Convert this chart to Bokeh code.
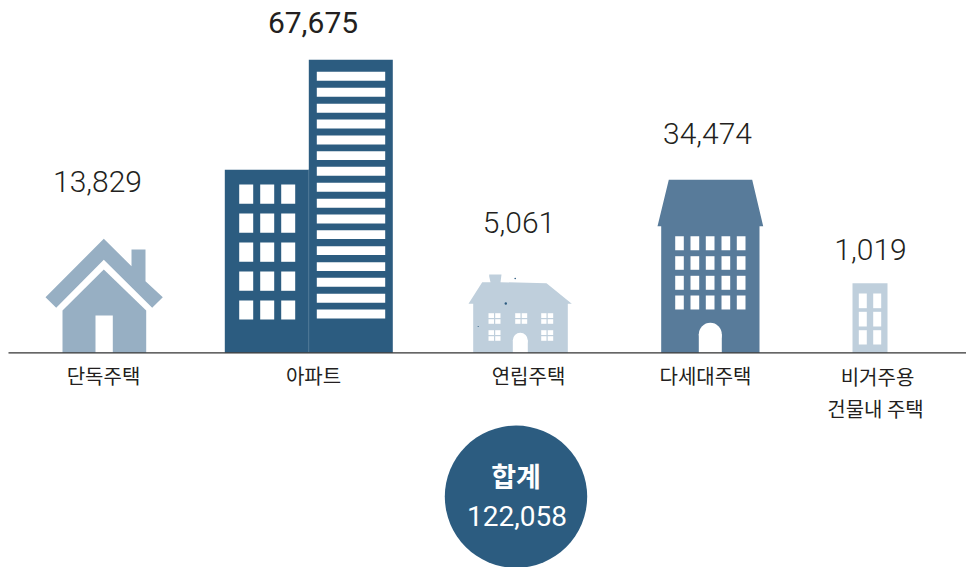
from bokeh.plotting import figure
from bokeh.models import Range1d
from bokeh.core.properties import value
from bokeh.embed import file_html
from bokeh.resources import INLINE

# ---- data ----
categories = ["단독주택", "아파트", "연립주택", "다세대주택", ["비거주용", "건물내 주택"]]
counts = [13829, 67675, 5061, 34474, 1019]
total_label = "합계"
total = 122058

# ---- layout of labels (page pixels) ----
count_x = [97, 312.5, 518.5, 707, 870]
count_y = [180.5, 21.5, 222, 133, 249]
cat_x = [103, 313, 528, 705, [877, 875]]
cat_y = [375, 375, 375, 375, [376, 408]]

NUM_FONT = "Roboto Light, Roboto"
NUM_BOLD = "Roboto"
KR_FONT = "Noto Sans CJK KR"
INK = "#231f20"
DARK = "#2c5c80"
HOUSE = "#97afc3"
PALE = "#bfcfdc"
MID = "#587b9a"
BASE = 352.3

p = figure(width=966, height=567, output_backend="svg", toolbar_location=None,
           x_range=Range1d(0, 966), y_range=Range1d(567, 0),
           min_border=0, outline_line_color=None, background_fill_color="white",
           border_fill_color="white")
p.axis.visible = False
p.grid.visible = False
p.xaxis.visible = False
p.yaxis.visible = False


def rects(xs, ys, color):
    left, right, top, bottom = [], [], [], []
    for y0, y1 in ys:
        for x0, x1 in xs:
            left.append(x0); right.append(x1); top.append(y0); bottom.append(y1)
    p.quad(left=left, right=right, top=top, bottom=bottom, fill_color=color, line_color=None)


# detached house
p.patch([45, 103.3, 131, 131, 145, 145, 162.3, 151.7, 103.3, 55.7],
        [296.7, 238.3, 265.7, 249, 249, 280.7, 296.7, 307.3, 259.3, 307.3],
        fill_color=HOUSE, line_color=None)
p.patch([103.3, 145.7, 145.7, 62, 62], [269, 310, BASE, BASE, 310], fill_color=HOUSE, line_color=None)
rects([(95, 112.3)], [(315, BASE)], "white")

# apartment
rects([(224.3, 308.3)], [(169.3, BASE)], DARK)
rects([(308.3, 392.3)], [(59.3, BASE)], DARK)
p.line([308.3, 308.3], [169.3, BASE], line_color="#4a7596", line_width=0.8)
rects([(238.7, 252.7), (259.7, 273.7), (280.7, 294.7)],
      [(184, 203.3), (213, 232.3), (242, 261.3), (271, 290.3), (300, 319)], "white")
stripe_tops = [71.3, 87.3, 103.3, 119, 135, 150.7, 166.3, 182.3, 198.3, 214, 229.7, 245.7, 261.7, 277.3, 293.3, 309]
rects([(316.3, 384.7)], [(t, t + 8.9) for t in stripe_tops], "white")

# row house
p.patch([472.7, 472.7, 468, 481.7, 490, 488.7, 488.7, 501, 500, 546, 571.3, 567.3, 567.3],
        [BASE, 303.3, 303.3, 281.7, 281.7, 276, 274, 274, 281.7, 282.7, 303.3, 303.3, BASE],
        fill_color=PALE, line_color=None)
pane_xs_upper = [(488, 493.5), (494.7, 500), (514.7, 520), (521.2, 526.7), (540.7, 546), (547.2, 552.7)]
pane_xs_lower = [(488, 493.5), (494.7, 500), (540.7, 546), (547.2, 552.7)]
rects(pane_xs_upper, [(312.7, 317.5), (318.7, 323.3)], "white")
rects(pane_xs_lower, [(329.7, 334.5), (335.7, 340.3)], "white")
rects([(512.3, 527.3)], [(339.8, BASE)], "white")
p.circle(x=[519.8], y=[339.8], radius=7.5, fill_color="white", line_color=None)
p.circle(x=[514.7, 505.3, 477.7], y=[278, 303, 326], radius=[0.8, 1.2, 0.6], fill_color=DARK, line_color=None)

# tall town house
p.patch([660.7, 660.7, 657, 668.3, 751.7, 762.7, 759, 759],
        [BASE, 225.7, 225.7, 179.3, 179.3, 225.7, 225.7, BASE], fill_color=MID, line_color=None)
rects([(674.7, 683.3), (690, 698.7), (705.3, 714), (721, 729.7), (736.3, 745)],
      [(235.7, 249.7), (255.7, 269.3), (275.3, 289.3), (295, 309)], "white")
rects([(698.3, 721.3)], [(333.8, BASE)], "white")
p.circle(x=[709.8], y=[333.8], radius=11.5, fill_color="white", line_color=None)

# non-residential building
rects([(852, 887)], [(282.7, BASE)], PALE)
rects([(858.3, 866.3), (872.7, 880.7)], [(293, 307.7), (311.3, 326), (329.7, 344)], "white")

# baseline
p.line([8, 966], [BASE, BASE], line_color="#333333", line_width=1.3)

# total badge
p.circle(x=[515.5], y=[496.2], radius=71.2, fill_color=DARK, line_color=None)


def label(x, y, s, font, size, color=INK, style="normal"):
    p.text(x=[x], y=[y], text=[s], text_font=value(font), text_font_size=f"{size}px",
           text_color=color, text_align="center", text_baseline="alphabetic",
           text_font_style=style)


for i, c in enumerate(counts):
    if c == max(counts):
        label(count_x[i], count_y[i], f"{c:,}", NUM_BOLD, 30)
    else:
        label(count_x[i], count_y[i], f"{c:,}", NUM_FONT, 30)

for i, c in enumerate(categories):
    if isinstance(c, list):
        for s, x, y in zip(c, cat_x[i], cat_y[i]):
            label(x, y, s, KR_FONT, 20)
    else:
        label(cat_x[i], cat_y[i], c, KR_FONT, 20)

label(515.5, 475, total_label, KR_FONT, 27, "white", "bold")
label(516.5, 515, f"{total:,}", "Roboto", 28, "white")

open("out.html", "w").write(file_html(p, INLINE))
